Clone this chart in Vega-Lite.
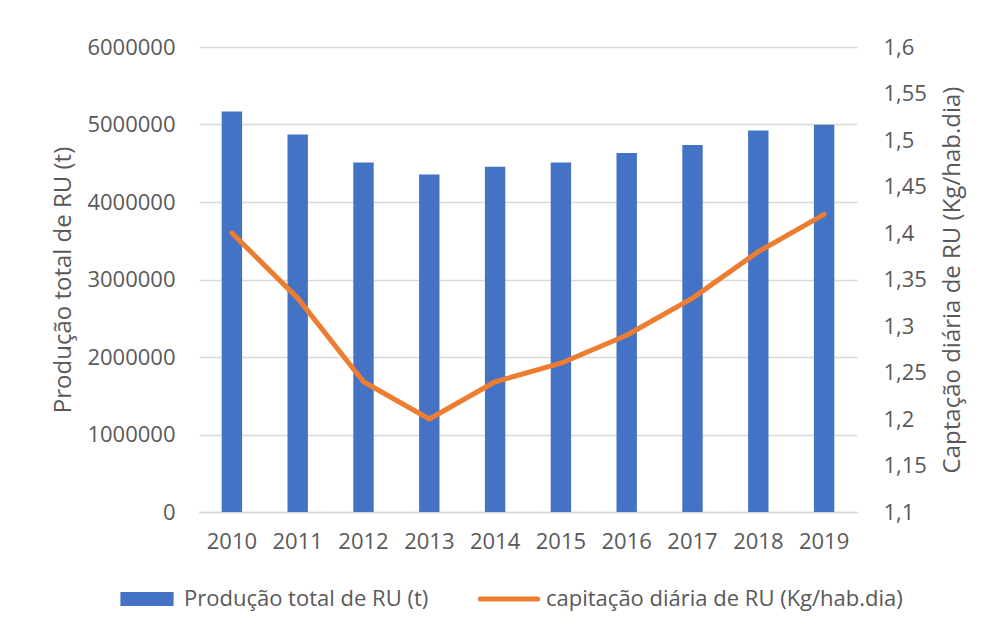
{
  "$schema": "https://vega.github.io/schema/vega-lite/v6.json",
  "width": 658,
  "height": 465,
  "autosize": {"type": "none"},
  "padding": {"left": 199, "top": 47, "right": 132, "bottom": 123},
  "background": "white",
  "data": {
    "values": [
      {"ano": "2010", "producao": 5169000, "capitacao": 1.40},
      {"ano": "2011", "producao": 4870000, "capitacao": 1.33},
      {"ano": "2012", "producao": 4511000, "capitacao": 1.24},
      {"ano": "2013", "producao": 4355000, "capitacao": 1.20},
      {"ano": "2014", "producao": 4455000, "capitacao": 1.24},
      {"ano": "2015", "producao": 4511000, "capitacao": 1.26},
      {"ano": "2016", "producao": 4632000, "capitacao": 1.29},
      {"ano": "2017", "producao": 4736000, "capitacao": 1.33},
      {"ano": "2018", "producao": 4922000, "capitacao": 1.38},
      {"ano": "2019", "producao": 4996000, "capitacao": 1.42}
    ]
  },
  "encoding": {
    "x": {
      "field": "ano",
      "type": "nominal",
      "scale": {"paddingInner": 0.69, "paddingOuter": 0.345},
      "axis": {
        "title": null,
        "labelAngle": 0,
        "labelPadding": 19,
        "ticks": false,
        "domainColor": "#d9d9d9",
        "domainWidth": 1.5,
        "grid": false
      }
    }
  },
  "layer": [
    {
      "mark": {"type": "bar", "color": "#4472C4"},
      "encoding": {
        "y": {
          "field": "producao",
          "type": "quantitative",
          "scale": {"domain": [0, 6000000], "nice": false},
          "axis": {
            "title": "Produção total de RU (t)",
            "values": [0, 1000000, 2000000, 3000000, 4000000, 5000000, 6000000],
            "format": "d",
            "domain": false,
            "ticks": false,
            "labelPadding": 24,
            "titlePadding": 11,
            "grid": true,
            "gridColor": "#d9d9d9",
            "gridWidth": 1.5
          }
        },
        "color": {
          "datum": "Produção total de RU (t)",
          "scale": {
            "domain": ["Produção total de RU (t)", "capitação diária de RU (Kg/hab.dia)"],
            "range": ["#4472C4", "#ED7D31"]
          },
          "legend": {
            "title": null,
            "orient": "none",
            "legendX": -63,
            "legendY": 541,
            "direction": "horizontal",
            "symbolSize": 784,
            "labelOffset": 26,
            "columnPadding": 41,
            "encode": {
              "symbols": {
                "update": {
                  "shape": {"signal": "datum.index === 0 ? 'M-1.9,-0.5H1.9V0.5H-1.9Z' : 'M-2.05,0H2.05'"},
                  "fill": {"signal": "datum.index === 0 ? '#4472C4' : 'transparent'"},
                  "stroke": {"signal": "datum.index === 0 ? 'transparent' : '#ED7D31'"},
                  "strokeWidth": {"signal": "datum.index === 0 ? 0 : 5"},
                  "strokeCap": {"value": "round"},
                  "opacity": {"value": 1}
                }
              }
            }
          }
        }
      }
    },
    {
      "mark": {"type": "line", "strokeWidth": 5, "strokeCap": "round", "strokeJoin": "round"},
      "encoding": {
        "y": {
          "field": "capitacao",
          "type": "quantitative",
          "scale": {"domain": [1.1, 1.6], "nice": false, "zero": false},
          "axis": {
            "orient": "right",
            "title": "Captação diária de RU (Kg/hab.dia)",
            "titleAngle": 270,
            "titleBaseline": "top",
            "values": [1.1, 1.15, 1.2, 1.25, 1.3, 1.35, 1.4, 1.45, 1.5, 1.55, 1.6],
            "labelExpr": "replace(format(datum.value, '.2~f'), '.', ',')",
            "domain": false,
            "ticks": false,
            "grid": false,
            "labelPadding": 26,
            "titlePadding": 14
          }
        },
        "color": {"datum": "capitação diária de RU (Kg/hab.dia)"}
      }
    }
  ],
  "resolve": {"scale": {"y": "independent"}},
  "config": {
    "font": "Open Sans",
    "view": {"stroke": null},
    "axis": {
      "labelFont": "Open Sans",
      "labelFontSize": 22,
      "labelColor": "#595959",
      "titleFont": "Open Sans",
      "titleFontSize": 24,
      "titleFontWeight": "normal",
      "titleColor": "#595959"
    },
    "legend": {
      "labelFont": "Open Sans",
      "labelFontSize": 22,
      "labelColor": "#595959",
      "labelLimit": 600
    }
  }
}
